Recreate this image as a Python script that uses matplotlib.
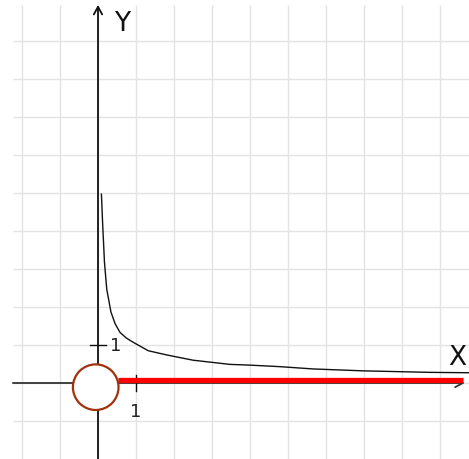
import matplotlib
matplotlib.use("Agg")
import matplotlib.pyplot as plt
from matplotlib.patches import Circle

# Curve points
curve_x = [0.09, 0.12, 0.17, 0.23, 0.34, 0.45, 0.58, 0.75, 0.93, 1.32, 1.8, 2.5, 3.47, 4.0, 4.79, 5.66, 6.97, 8.74, 9.76]
curve_y = [4.97, 4.24, 3.18, 2.47, 1.87, 1.56, 1.33, 1.18, 1.07, 0.85, 0.74, 0.6, 0.49, 0.47, 0.43, 0.37, 0.32, 0.28, 0.27]

# Red segment (x start, x end, y)
red_x = [0.53, 9.6]
red_y = [0.08, 0.08]

# Open circle (center, radius)
circle_center = (-0.06, -0.11)
circle_radius = 0.6

grid_x = list(range(-2, 10))
grid_y = list(range(-1, 10))
tick_labels = ["1", "1"]

fig = plt.figure(figsize=(4.69, 4.60), dpi=100)
ax = fig.add_axes([0, 0, 1, 1])
xmin, xmax = -98 / 38, (469 - 98) / 38
ymin, ymax = (384 - 460) / 38, 384 / 38
ax.set_xlim(xmin, xmax)
ax.set_ylim(ymin, ymax)
ax.axis("off")

gl, gr, gb, gt = -2.24, 9.76, -2.0, 9.95
ax.vlines(grid_x, gb, gt, colors="#e3e3e3", linewidth=1.0, zorder=0)
ax.hlines(grid_y, gl, gr, colors="#e3e3e3", linewidth=1.0, zorder=0)

ax.annotate("", xy=(9.65, 0), xytext=(gl, 0),
            arrowprops=dict(arrowstyle="->,head_length=0.55,head_width=0.3",
                            color="#333333", lw=1.3, shrinkA=0, shrinkB=0), zorder=2)
ax.annotate("", xy=(0, gt), xytext=(0, gb),
            arrowprops=dict(arrowstyle="->,head_length=0.55,head_width=0.3",
                            color="#111111", lw=1.3, shrinkA=0, shrinkB=0), zorder=2)

# ticks
ax.plot([1, 1], [-0.21, 0.21], color="#111111", lw=1.0, zorder=3)
ax.plot([-0.21, 0.21], [1, 1], color="#111111", lw=1.0, zorder=3)
ax.text(1.0, -0.74, tick_labels[0], ha="center", va="center", fontsize=13, color="#222222")
ax.text(0.47, 1.0, tick_labels[1], ha="center", va="center", fontsize=13, color="#222222")

ax.text(0.63, 9.47, "Y", ha="center", va="center", fontsize=19, color="#111111")
ax.text(9.45, 0.68, "X", ha="center", va="center", fontsize=19, color="#111111")

ax.plot(curve_x, curve_y, color="#111111", lw=1.0, zorder=3)
ax.plot(red_x, red_y, color="#ff0000", lw=3.8, solid_capstyle="butt", zorder=4)

c = Circle(circle_center, circle_radius, facecolor="white", edgecolor="#a0320e", lw=1.6, zorder=5)
ax.add_patch(c)

fig.savefig("out.png", dpi=100)
